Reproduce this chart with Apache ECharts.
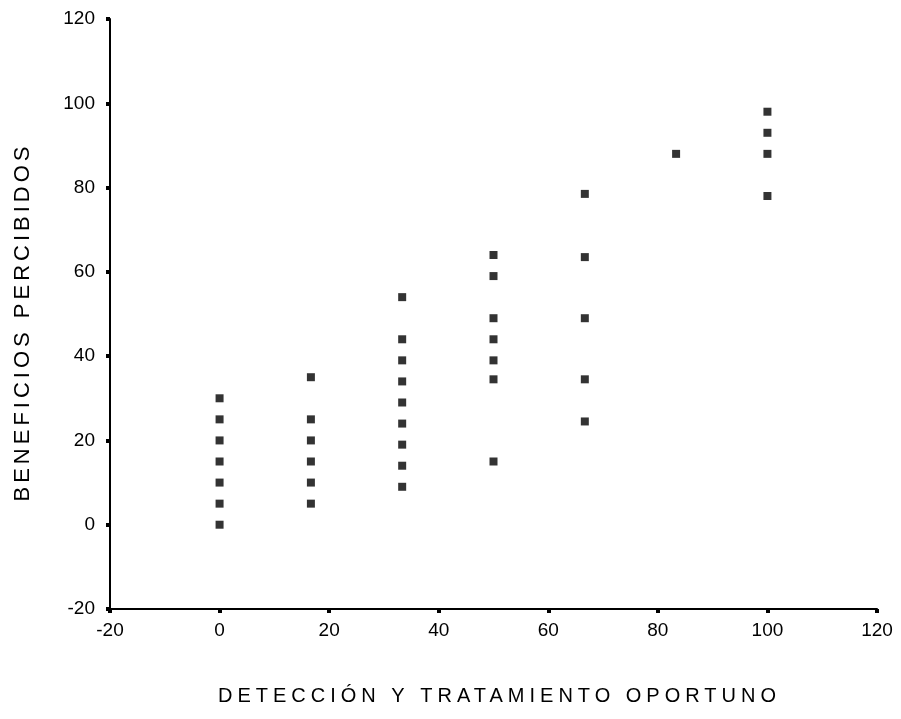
<!DOCTYPE html>
<html>
<head>
<meta charset="utf-8">
<script src="https://cdn.jsdelivr.net/npm/echarts@6/dist/echarts.min.js"></script>
<style>html,body{margin:0;padding:0;background:#fff}#c{width:901px;height:719px}</style>
</head>
<body>
<div id="c"></div>
<script>
// Data
var xCols = [0, 16.67, 33.33, 50, 66.67, 83.33, 100];
var yCol0 = [0, 5, 10, 15, 20, 25, 30];
var yCol1 = [5, 10, 15, 20, 25, 35];
var yCol2 = [9, 14, 19, 24, 29, 34, 39, 44, 54];
var yCol3 = [15, 34.5, 39, 44, 49, 59, 64];
var yCol4 = [24.5, 34.5, 49, 63.5, 78.5];
var yCol5 = [88];
var yCol6 = [78, 88, 93, 98];
var xTitle = 'DETECCIÓN Y TRATAMIENTO OPORTUNO';
var yTitle = 'BENEFICIOS PERCIBIDOS';

// widen letter spacing of the two axis titles only (the reference uses spaced-out capitals)
(function () {
  var proto = CanvasRenderingContext2D.prototype;
  var orig = proto.fillText;
  var spacing = {};
  spacing[xTitle] = '5px';
  spacing[yTitle] = '4px';
  proto.fillText = function (t, x, y, m) {
    if (spacing[t] && 'letterSpacing' in this) {
      this.save();
      this.letterSpacing = spacing[t];
      if (m === undefined) orig.call(this, t, x, y); else orig.call(this, t, x, y, m);
      this.letterSpacing = '0px';
      this.restore();
      var f = this.font;
      this.font = '10px serif';
      this.font = f;
      return;
    }
    if (m === undefined) orig.call(this, t, x, y); else orig.call(this, t, x, y, m);
  };
})();

var cols = [yCol0, yCol1, yCol2, yCol3, yCol4, yCol5, yCol6];
var points = [];
cols.forEach(function (ys, i) {
  ys.forEach(function (y) { points.push([xCols[i], y]); });
});

var font = 'Liberation Sans, Arial, sans-serif';
var chart = echarts.init(document.getElementById('c'), null, {renderer: 'canvas'});
chart.setOption({
  animation: false,
  backgroundColor: '#fff',
  grid: {left: 110, right: 24, top: 19, bottom: 110, containLabel: false},
  xAxis: {
    type: 'value', min: -20, max: 120, interval: 20,
    name: xTitle, nameLocation: 'middle', nameGap: 77,
    nameTextStyle: {fontFamily: font, fontSize: 20, color: '#000', padding: [0, 0, 0, 12]},
    axisLine: {show: true, onZero: false, lineStyle: {color: '#000', width: 2}},
    axisTick: {show: true, length: 4, lineStyle: {color: '#000', width: 4}},
    axisLabel: {fontFamily: font, fontSize: 19, color: '#000', margin: 12},
    splitLine: {show: false}
  },
  yAxis: {
    type: 'value', min: -20, max: 120, interval: 20,
    name: yTitle, nameLocation: 'middle', nameGap: 76,
    nameTextStyle: {fontFamily: font, fontSize: 22, color: '#000', padding: [0, 16, 0, 0]},
    axisLine: {show: true, onZero: false, lineStyle: {color: '#000', width: 2}},
    axisTick: {show: true, length: 4, lineStyle: {color: '#000', width: 4}},
    axisLabel: {fontFamily: font, fontSize: 19, color: '#000', margin: 15},
    splitLine: {show: false}
  },
  series: [{
    type: 'scatter',
    data: points,
    symbol: 'rect',
    symbolSize: 8,
    itemStyle: {color: '#000'}
  }]
});
</script>
</body>
</html>
